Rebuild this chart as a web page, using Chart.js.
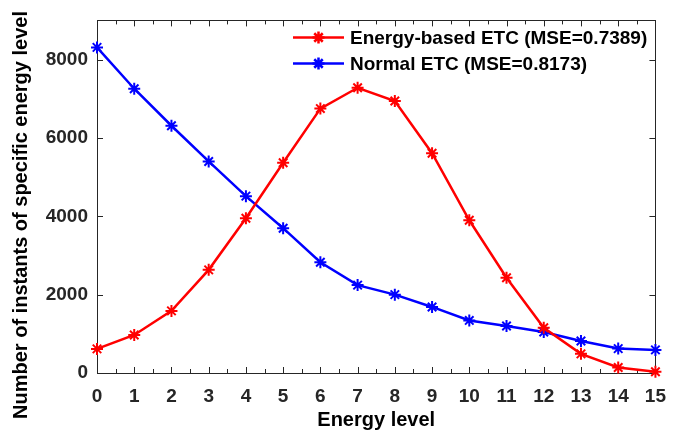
<!DOCTYPE html>
<html>
<head>
<meta charset="utf-8">
<script src="https://cdn.jsdelivr.net/npm/chart.js@4/dist/chart.umd.min.js"></script>
<style>
  html, body { margin: 0; padding: 0; background: #fff; }
  #wrap { width: 678px; height: 432px; }
</style>
</head>
<body>
<div id="wrap"><canvas id="c" width="678" height="432"></canvas></div>
<script>
// Energy levels on the x axis
const levels = [0, 1, 2, 3, 4, 5, 6, 7, 8, 9, 10, 11, 12, 13, 14, 15];
// Number of instants at each energy level
const energyBased = [615, 970, 1585, 2633, 3949, 5367, 6749, 7281, 6944, 5610, 3899, 2430, 1155, 489, 142, 33];
const normalEtc = [8311, 7256, 6311, 5400, 4514, 3696, 2826, 2243, 2000, 1686, 1342, 1198, 1046, 818, 623, 590];
const seriesNames = ['Energy-based ETC (MSE=0.7389)', 'Normal ETC (MSE=0.8173)'];
const yTicks = [0, 2000, 4000, 6000, 8000];
const yTitle = 'Number of instants of specific energy level';

const FONT = '"Liberation Sans", Arial, Helvetica, sans-serif';
const AXIS = '#262626';

function pts(vals) { return levels.map((x, i) => ({ x: x, y: vals[i] })); }

function series(label, vals, color) {
  return {
    label: label,
    data: pts(vals),
    borderColor: color,
    backgroundColor: color,
    borderWidth: 2.5,
    pointStyle: 'star',
    pointRadius: 6,
    pointBorderWidth: 2,
    pointBorderColor: color,
    pointHoverRadius: 6,
    tension: 0,
    clip: false
  };
}

// Box around the plot with inward-pointing tick marks on all four sides
const boxTicks = {
  id: 'boxTicks',
  beforeDatasetsDraw(chart) {
    const { ctx, chartArea: a, scales: { x, y } } = chart;
    ctx.save();
    ctx.strokeStyle = AXIS;
    ctx.lineWidth = 1;
    ctx.beginPath();
    for (let v = levels[0]; v <= levels[levels.length - 1] + 1e-9; v += 0.5) {
      const px = Math.round(x.getPixelForValue(v)) + 0.5;
      const len = Number.isInteger(v) ? 6 : 4;
      ctx.moveTo(px, a.bottom); ctx.lineTo(px, a.bottom - len);
      ctx.moveTo(px, a.top); ctx.lineTo(px, a.top + len);
    }
    yTicks.forEach(v => {
      const py = Math.round(y.getPixelForValue(v)) + 0.5;
      ctx.moveTo(a.left, py); ctx.lineTo(a.left + 6, py);
      ctx.moveTo(a.right, py); ctx.lineTo(a.right - 6, py);
    });
    ctx.stroke();
    ctx.strokeRect(Math.round(a.left) + 0.5, Math.round(a.top) + 0.5,
                   Math.round(a.right - a.left), Math.round(a.bottom - a.top));
    ctx.restore();
  }
};

// Vertical axis title, centred on the full figure height
const yAxisTitle = {
  id: 'yAxisTitle',
  afterDraw(chart) {
    const { ctx } = chart;
    ctx.save();
    ctx.translate(21, 215);
    ctx.rotate(-Math.PI / 2);
    ctx.fillStyle = '#000';
    ctx.font = 'bold 20px ' + FONT;
    ctx.textAlign = 'center';
    ctx.textBaseline = 'middle';
    ctx.fillText(yTitle, 0, 0);
    ctx.restore();
  }
};

// Legend drawn inside the top-right corner of the plot
const innerLegend = {
  id: 'innerLegend',
  afterDraw(chart) {
    const { ctx } = chart;
    ctx.save();
    chart.data.datasets.forEach((ds, i) => {
      const yy = 37.5 + i * 26;
      const x0 = 293, x1 = 344;
      ctx.strokeStyle = ds.borderColor;
      ctx.lineWidth = ds.borderWidth;
      ctx.beginPath(); ctx.moveTo(x0, yy); ctx.lineTo(x1, yy); ctx.stroke();
      Chart.helpers.drawPoint(ctx, { pointStyle: 'star', radius: ds.pointRadius, borderWidth: ds.pointBorderWidth }, (x0 + x1) / 2, yy);
      ctx.fillStyle = '#000';
      ctx.font = 'bold 19px ' + FONT;
      ctx.textAlign = 'left';
      ctx.textBaseline = 'middle';
      ctx.fillText(ds.label, 350, yy + 1);
    });
    ctx.restore();
  }
};

new Chart(document.getElementById('c'), {
  type: 'line',
  data: {
    datasets: [
      series(seriesNames[0], energyBased, '#ff0000'),
      series(seriesNames[1], normalEtc, '#0000ff')
    ]
  },
  options: {
    responsive: false,
    animation: false,
    devicePixelRatio: 1,
    layout: { padding: { top: 18, right: 10.5, left: 0, bottom: 0 } },
    plugins: { legend: { display: false }, tooltip: { enabled: false } },
    scales: {
      x: {
        type: 'linear',
        min: 0, max: 15,
        grid: { display: false, drawTicks: false },
        border: { display: false },
        ticks: {
          stepSize: 1,
          padding: 12,
          color: AXIS,
          font: { family: FONT, size: 19, weight: 'bold' },
          maxRotation: 0
        },
        title: {
          display: true,
          text: 'Energy level',
          color: '#000',
          font: { family: FONT, size: 20, weight: 'bold' },
          padding: { top: 0, bottom: 0 }
        },
        afterFit(s) { s.height = 59; }
      },
      y: {
        min: 0, max: 9000,
        grid: { display: false, drawTicks: false },
        border: { display: false },
        afterBuildTicks(s) { s.ticks = yTicks.map(v => ({ value: v })); },
        ticks: {
          padding: 9,
          color: AXIS,
          font: { family: FONT, size: 19, weight: 'bold' },
          callback: v => String(v)
        },
        afterFit(s) { s.width = 97; }
      }
    }
  },
  plugins: [boxTicks, yAxisTitle, innerLegend]
});
</script>
</body>
</html>
